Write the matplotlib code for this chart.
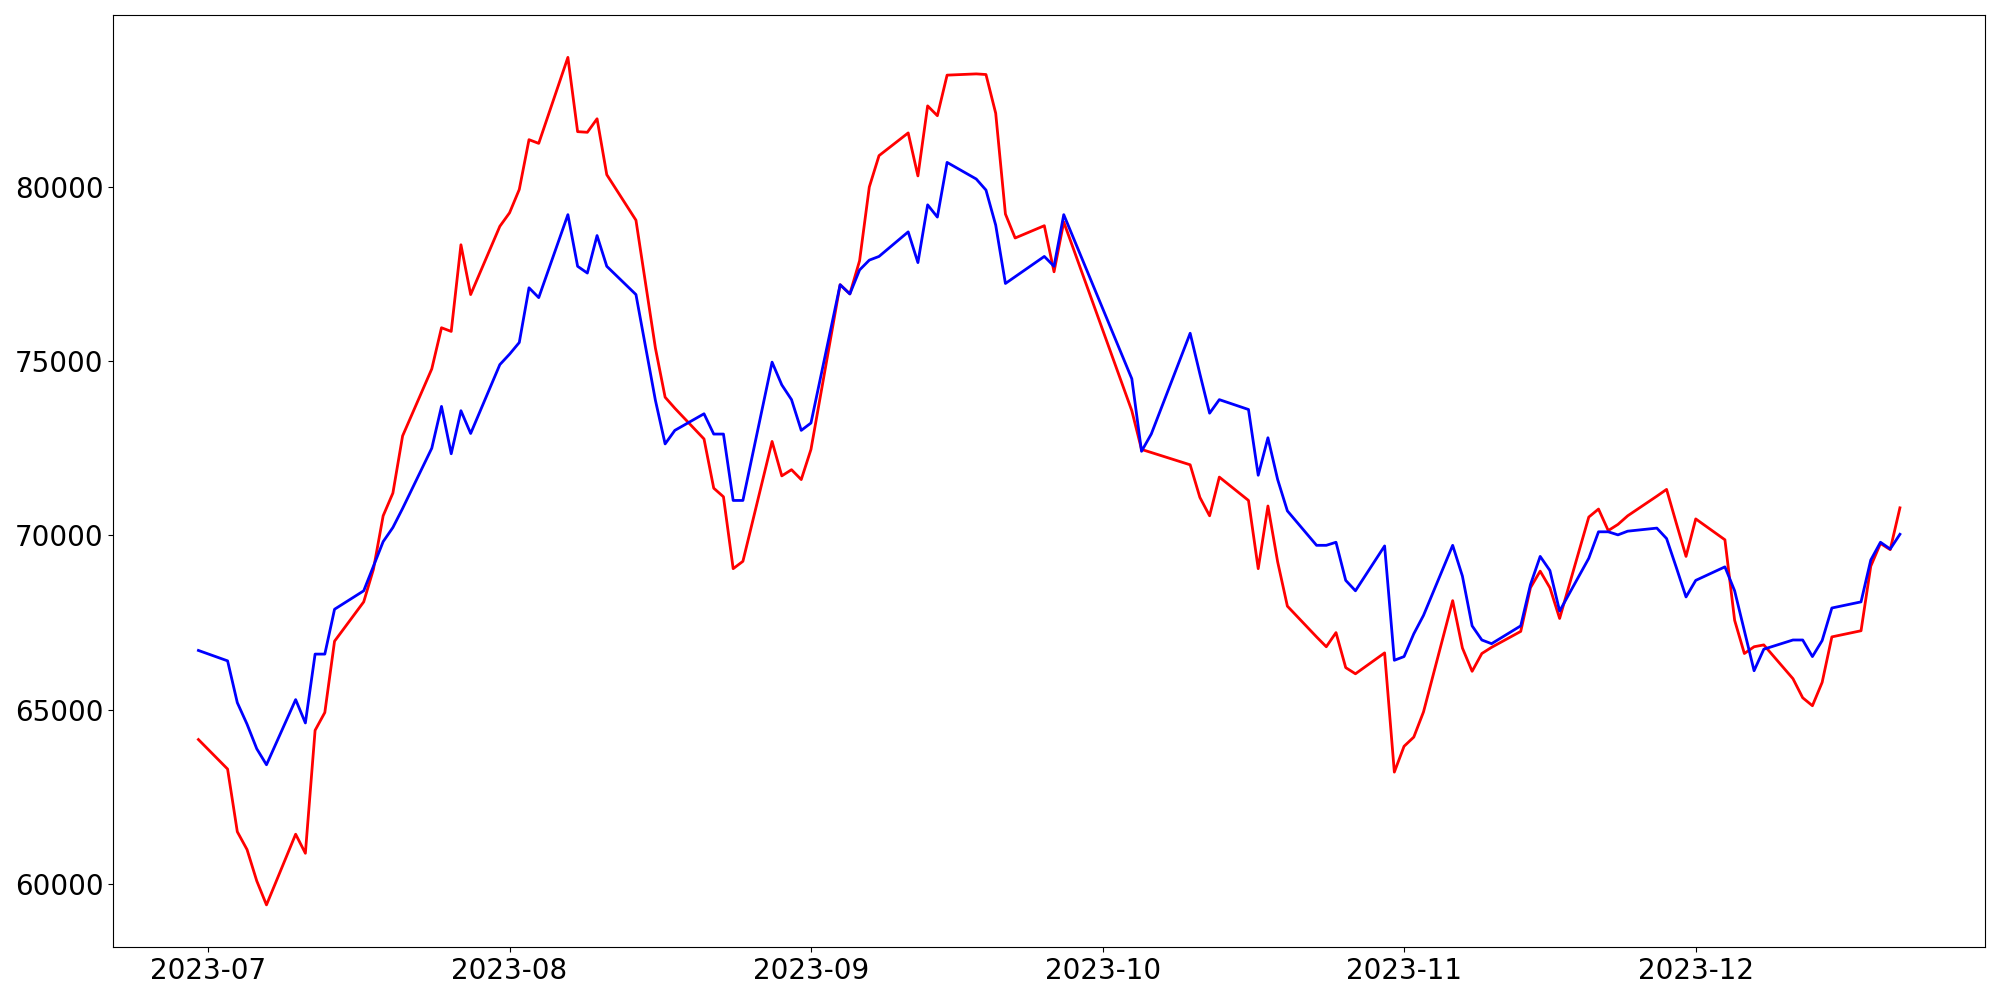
import pandas as pd
import matplotlib
matplotlib.use("Agg")
import matplotlib.pyplot as plt

# trading days (KRX calendar, Jun 30 - Dec 22 2023)
holidays = ["2023-08-15", "2023-09-28", "2023-09-29", "2023-10-02", "2023-10-03", "2023-10-09"]
dates = pd.bdate_range("2023-06-30", "2023-12-22")
dates = dates[~dates.isin(pd.to_datetime(holidays))]

# red series, by month
red_jun = [64142]
red_jul = [63295, 61496, 60984, 60084, 59396, 61425, 60878, 64406, 64918, 66964,
           68093, 69028, 70563, 71215, 72856, 74779, 75960, 75855, 78342, 76913, 78871]
red_aug = [79259, 79929, 81358, 81252, 83720, 81588, 81570, 81958, 80353, 79047, 75378,
           73967, 73650, 72768, 71356, 71109, 69046, 69257, 72697, 71709, 71886, 71603]
red_sep = [72468, 77195, 76931, 77883, 80000, 80900, 81552, 80318, 82328, 82046, 83210,
           83246, 83228, 82117, 79224, 78536, 78889, 77566, 78995]
red_oct = [73579, 72468, 72380, 72027, 71092, 70563, 71674, 71004, 69046, 70845, 69240,
           67970, 67088, 66805, 67211, 66206, 66029, 66629, 63207]
red_nov = [63948, 64212, 64935, 68128, 66770, 66100, 66611, 66788, 67246, 68499, 68975,
           68499, 67617, 70527, 70757, 70139, 70316, 70563, 71127, 71321, 70351, 69398]
red_dec = [70474, 69875, 67564, 66611, 66805, 66858, 65888, 65341, 65112, 65782, 67088,
           67264, 69116, 69769, 69592, 70792]

# blue series, by month
blue_jun = [66699]
blue_jul = [66400, 65200, 64583, 63877, 63418, 65288, 64618, 66594, 66594, 67881,
            68411, 69116, 69822, 70227, 70774, 72503, 73703, 72344, 73579, 72926, 74902]
blue_aug = [75202, 75537, 77107, 76825, 79206, 77724, 77530, 78606, 77724, 76913, 73879,
            72626, 73015, 73491, 72909, 72909, 71004, 71004, 74973, 74320, 73897, 73015]
blue_sep = [73226, 77195, 76931, 77619, 77901, 78007, 78712, 77830, 79488, 79136, 80706,
            80229, 79912, 78906, 77231, 77425, 78007, 77724, 79206]
blue_oct = [74496, 72415, 72909, 75802, 74637, 73508, 73897, 73614, 71727, 72803, 71603,
            70704, 69716, 69716, 69804, 68710, 68411, 69698, 66417]
blue_nov = [66523, 67176, 67705, 69716, 68834, 67405, 66999, 66893, 67405, 68587, 69398,
            68993, 67828, 69345, 70104, 70104, 70016, 70122, 70210, 69910, 69081, 68234]
blue_dec = [68710, 69098, 68411, 67264, 66117, 66735, 66999, 66999, 66523, 66982, 67917,
            68093, 69293, 69804, 69610, 70033]

red = red_jun + red_jul + red_aug + red_sep + red_oct + red_nov + red_dec
blue = blue_jun + blue_jul + blue_aug + blue_sep + blue_oct + blue_nov + blue_dec

plt.figure(figsize=(20, 10), dpi=100)
plt.plot(dates, red, color="red", linewidth=2)
plt.plot(dates, blue, color="blue", linewidth=2)
plt.xticks(fontsize=20)
plt.yticks(fontsize=20)
plt.tight_layout()
plt.savefig("out.png")
plt.close()
